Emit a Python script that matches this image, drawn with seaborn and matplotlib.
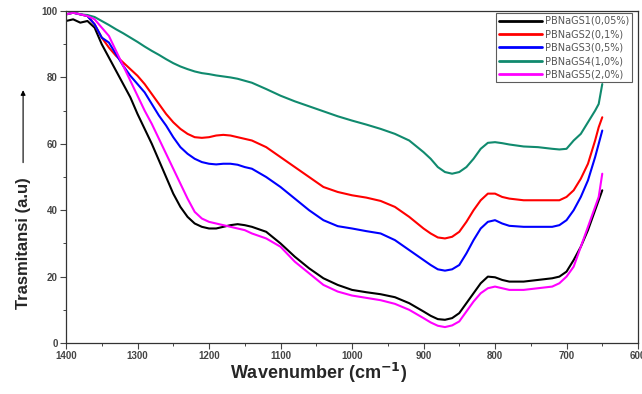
import numpy as np
import pandas as pd
import seaborn as sns
import matplotlib.pyplot as plt
from matplotlib.ticker import MultipleLocator

wavenumber = [1400, 1390, 1380, 1370, 1360, 1350, 1340, 1330, 1320, 1310,
              1300, 1290, 1280, 1270, 1260, 1250, 1240, 1230, 1220, 1210,
              1200, 1190, 1180, 1170, 1160, 1150, 1140, 1120, 1100, 1080,
              1060, 1040, 1020, 1000, 980, 960, 940, 920, 900, 890,
              880, 870, 860, 850, 840, 830, 820, 810, 800, 790,
              780, 760, 740, 720, 710, 700, 690, 680, 670, 660,
              655, 650]

s1 = [97, 97.5, 96.5, 97, 95, 90, 86, 82, 78, 74,
      69, 64.5, 60, 55, 50, 45, 41, 38, 36, 35,
      34.5, 34.5, 35, 35.5, 35.8, 35.5, 35, 33.5, 30, 26,
      22.5, 19.5, 17.5, 16, 15.3, 14.7, 13.8, 12, 9.5, 8.2,
      7.2, 7, 7.5, 9, 12, 15, 18, 20, 19.8, 19,
      18.5, 18.5, 19, 19.5, 20, 21.5, 25, 29, 34, 40,
      43, 46]
s2 = [99, 99.5, 99, 98.5, 96, 92, 89, 86.5, 84.5, 82.5,
      80.5, 78, 75, 72, 69, 66.5, 64.5, 63, 62, 61.8,
      62, 62.5, 62.7, 62.5, 62, 61.5, 61, 59, 56, 53,
      50, 47, 45.5, 44.5, 43.8, 42.8, 41, 38, 34.5, 33,
      31.8, 31.5, 32, 33.5, 36.5, 40, 43, 45, 45, 44,
      43.5, 43, 43, 43, 43, 44, 46, 49.5, 54, 61,
      65, 68]
s3 = [99, 99.5, 99, 98.5, 96, 92, 90.5, 87, 83.5, 80.5,
      78, 75.5, 72, 68.5, 65.5, 62, 59, 57, 55.5, 54.5,
      54, 53.8, 54, 54, 53.7, 53, 52.5, 50, 47, 43.5,
      40, 37, 35.2, 34.5, 33.7, 33, 31, 28, 25, 23.5,
      22.2, 21.8, 22.2, 23.5, 27, 31, 34.5, 36.5, 37, 36,
      35.3, 35, 35, 35, 35.5, 37, 40, 44, 49, 56,
      60, 64]
s4 = [99, 99.5, 99, 98.8, 98.2, 97, 95.8, 94.5, 93.3, 92,
      90.7, 89.3, 88, 86.8, 85.5, 84.3, 83.3, 82.5, 81.8, 81.3,
      81, 80.6, 80.3, 80, 79.6, 79, 78.4, 76.5, 74.5, 72.8,
      71.3, 69.8, 68.3, 67, 65.8, 64.5, 63, 61, 57.5, 55.5,
      53, 51.5, 51, 51.5, 53, 55.5, 58.5, 60.3, 60.5, 60.2,
      59.8, 59.2, 59, 58.5, 58.3, 58.5, 61, 63, 66.5, 70,
      72, 78]
s5 = [99, 99.5, 99, 98.5, 97.5, 95, 92.5, 88, 83.5, 79,
      74.5, 70, 66, 61.5, 57, 52.5, 48, 43.5, 39.5, 37.5,
      36.5, 36, 35.5, 35, 34.5, 34, 33, 31.5, 29, 24.5,
      21, 17.5, 15.5, 14.3, 13.6, 12.9, 11.8, 10, 7.5, 6.2,
      5.2, 4.8, 5.3, 6.5, 9.5, 12.5, 15, 16.5, 17, 16.5,
      16, 16, 16.5, 17, 18, 20, 23, 29, 35, 41,
      44, 51]

labels = ["PBNaGS1(0,05%)", "PBNaGS2(0,1%)", "PBNaGS3(0,5%)",
          "PBNaGS4(1,0%)", "PBNaGS5(2,0%)"]
colors = ["#000000", "#ff0000", "#0000ff", "#108a6e", "#ff00ff"]

frames = []
for lab, vals in zip(labels, [s1, s2, s3, s4, s5]):
    frames.append(pd.DataFrame({"x": wavenumber, "y": vals, "sample": lab}))
df = pd.concat(frames, ignore_index=True)

sns.set_style("ticks")
plt.rcParams["font.family"] = ["Liberation Sans", "DejaVu Sans"]

fig = plt.figure(figsize=(6.42, 3.94), dpi=100)
ax = fig.add_axes([0.1028, 0.1294, 0.891, 0.8426])

sns.lineplot(data=df, x="x", y="y", hue="sample", palette=colors,
             linewidth=1.5, sort=False, ax=ax)

ax.set_xlim(1400, 600)
ax.set_ylim(0, 100)
ax.xaxis.set_major_locator(MultipleLocator(100))
ax.xaxis.set_minor_locator(MultipleLocator(50))
ax.yaxis.set_major_locator(MultipleLocator(20))
ax.yaxis.set_minor_locator(MultipleLocator(10))
ax.tick_params(which="major", direction="out", length=4, width=0.8,
               labelsize=7, colors="#444444", pad=2)
ax.tick_params(which="minor", direction="out", length=2.5, width=0.7,
               colors="#444444")
for lab in ax.get_xticklabels() + ax.get_yticklabels():
    lab.set_fontweight("bold")
for sp in ax.spines.values():
    sp.set_visible(True)
    sp.set_linewidth(0.9)
    sp.set_color("#333333")

ax.set_xlabel("Wavenumber (cm$^{\\mathbf{-1}}$)", fontsize=13,
              fontweight="bold", labelpad=4)
ax.xaxis.set_label_coords(0.442, -0.09, transform=ax.transAxes)
ax.xaxis.label.set_va("center")
ax.set_ylabel("")
ax.text(-0.075, 0.30, "Trasmitansi (a.u)", transform=ax.transAxes,
        rotation=90, ha="center", va="center", fontsize=12,
        fontweight="bold")
ax.annotate("", xy=(-0.075, 0.77), xytext=(-0.075, 0.535),
            xycoords="axes fraction", textcoords="axes fraction",
            arrowprops=dict(arrowstyle="-|>", color="black", lw=0.8,
                            mutation_scale=7),
            annotation_clip=False)

leg = ax.legend(loc="upper right", bbox_to_anchor=(0.9895, 0.994),
                borderaxespad=0, frameon=True, fancybox=False,
                prop={"family": "DejaVu Sans", "size": 7},
                handlelength=4.4, handletextpad=0.3, borderpad=0.3,
                labelspacing=0.35)
leg.get_frame().set_edgecolor("#333333")
leg.get_frame().set_linewidth(0.8)
for t in leg.get_texts():
    t.set_color("#555555")
for h in leg.get_lines():
    h.set_linewidth(2)

fig.savefig("out.png", dpi=100)
